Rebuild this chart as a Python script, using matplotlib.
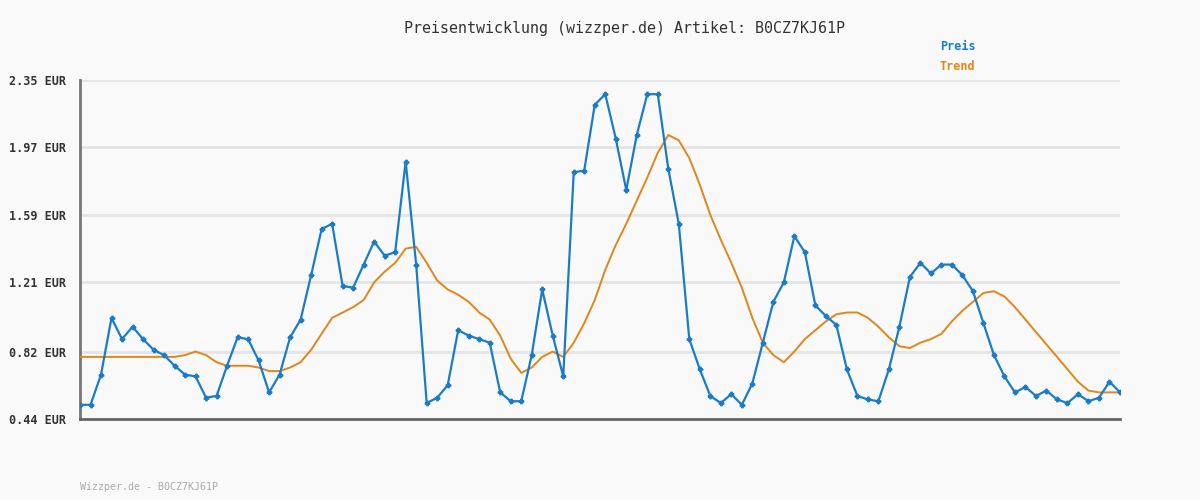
import matplotlib
matplotlib.use("Agg")
import matplotlib.pyplot as plt
import numpy as np

title = "Preisentwicklung (wizzper.de) Artikel: B0CZ7KJ61P"
footer = "Wizzper.de - B0CZ7KJ61P"
yticks = [0.44, 0.82, 1.21, 1.59, 1.97, 2.35]
ytick_labels = ["0.44 EUR", "0.82 EUR", "1.21 EUR", "1.59 EUR", "1.97 EUR", "2.35 EUR"]

preis = [0.52, 0.52, 0.69, 1.01, 0.89, 0.96, 0.89, 0.83, 0.80, 0.74,
         0.69, 0.68, 0.56, 0.57, 0.74, 0.90, 0.89, 0.77, 0.59, 0.69,
         0.90, 1.00, 1.25, 1.51, 1.54, 1.19, 1.18, 1.31, 1.44, 1.36,
         1.38, 1.89, 1.31, 0.53, 0.56, 0.63, 0.94, 0.91, 0.89, 0.87,
         0.59, 0.54, 0.54, 0.80, 1.17, 0.91, 0.68, 1.83, 1.84, 2.21,
         2.27, 2.02, 1.73, 2.04, 2.27, 2.27, 1.85, 1.54, 0.89, 0.72,
         0.57, 0.53, 0.58, 0.52, 0.64, 0.87, 1.10, 1.21, 1.47, 1.38,
         1.08, 1.02, 0.97, 0.72, 0.57, 0.55, 0.54, 0.72, 0.96, 1.24,
         1.32, 1.26, 1.31, 1.31, 1.25, 1.16, 0.98, 0.80, 0.68, 0.59,
         0.62, 0.57, 0.60, 0.55, 0.53, 0.58, 0.54, 0.56, 0.65, 0.59]

trend = [0.79, 0.79, 0.79, 0.79, 0.79, 0.79, 0.79, 0.79, 0.79, 0.79,
         0.80, 0.82, 0.80, 0.76, 0.74, 0.74, 0.74, 0.73, 0.71, 0.71,
         0.73, 0.76, 0.83, 0.92, 1.01, 1.04, 1.07, 1.11, 1.21, 1.27,
         1.32, 1.40, 1.41, 1.32, 1.22, 1.17, 1.14, 1.10, 1.04, 1.00,
         0.91, 0.78, 0.70, 0.73, 0.79, 0.82, 0.79, 0.87, 0.98, 1.11,
         1.28, 1.42, 1.54, 1.67, 1.80, 1.94, 2.04, 2.01, 1.91, 1.76,
         1.59, 1.45, 1.32, 1.18, 1.01, 0.87, 0.80, 0.76, 0.82, 0.89,
         0.94, 0.99, 1.03, 1.04, 1.04, 1.01, 0.96, 0.90, 0.85, 0.84,
         0.87, 0.89, 0.92, 0.99, 1.05, 1.10, 1.15, 1.16, 1.13, 1.07,
         1.00, 0.93, 0.86, 0.79, 0.72, 0.65, 0.60, 0.59, 0.59, 0.59]

BLUE = "#1a7cc7"
ORANGE = "#e0861a"
BG = "#f9f9f9"
MONO = "DejaVu Sans Mono"

W, H = 1200, 500
fig = plt.figure(figsize=(12, 5), dpi=100, facecolor=BG)
ax = fig.add_axes([80 / W, (H - 419) / H, 1040 / W, 339 / H])
ax.set_facecolor(BG)

x = np.arange(len(preis))
ax.plot(x, trend, color=ORANGE, lw=1.4, zorder=3)
ax.plot(x, preis, color=BLUE, lw=1.6, marker="P", markersize=3.2, zorder=4)

ax.set_xlim(0, len(preis) - 1)
ax.set_ylim(yticks[0], yticks[-1])
ax.set_yticks(yticks)
ax.set_yticklabels(ytick_labels, family=MONO, fontsize=8.5, color="#333333",
                   fontweight="bold")
ax.set_xticks([])
ax.tick_params(axis="y", length=0, pad=10)
ax.grid(axis="y", color="#e4e4e4", lw=2)
ax.set_axisbelow(True)
for s in ["top", "right"]:
    ax.spines[s].set_visible(False)
ax.spines["left"].set_color("#777777")
ax.spines["left"].set_linewidth(2)
ax.spines["bottom"].set_color("#666666")
ax.spines["bottom"].set_linewidth(2)

fig.text(624 / W, 1 - 28 / H, title, ha="center", va="center", family=MONO,
         fontsize=10.8, color="#333333")
fig.text(940 / W, 1 - 47 / H, "Preis", ha="left", va="center", family=MONO,
         fontsize=8.5, color=BLUE, fontweight="bold")
fig.text(940 / W, 1 - 67 / H, "Trend", ha="left", va="center", family=MONO,
         fontsize=8.5, color=ORANGE, fontweight="bold")
fig.text(80 / W, 1 - 487 / H, footer, ha="left", va="center", family=MONO,
         fontsize=7.2, color="#aaaaaa")

fig.savefig("out.png", dpi=100, facecolor=BG)
